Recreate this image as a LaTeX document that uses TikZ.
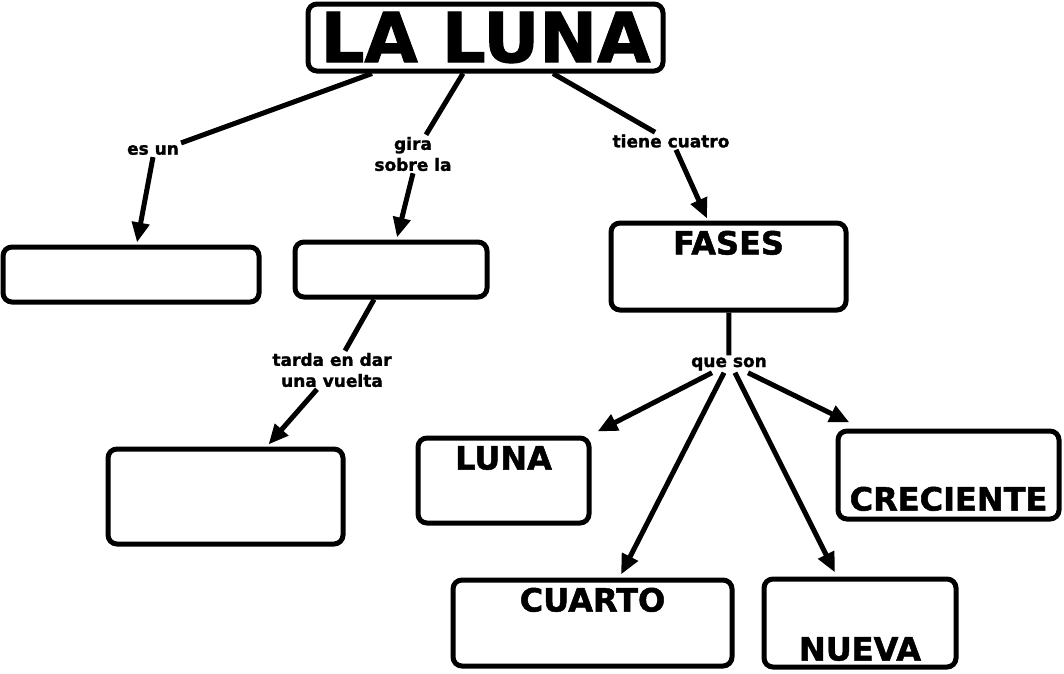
\documentclass[tikz,border=0pt]{standalone}
\usepackage{fontspec}
\setmainfont{DejaVu Sans}[BoldFeatures={FakeBold=1.5}]
\usetikzlibrary{arrows.meta}
\begin{document}
\begin{tikzpicture}[x=1pt,y=-1pt,
  box/.style={draw, line width=5pt, rounded corners=9pt, inner sep=0pt},
  lbl/.style={font=\bfseries\fontsize{17}{21}\selectfont, inner sep=2pt, align=center},
  link/.style={line width=5pt},
  arr/.style={line width=5pt, -{Triangle[length=20pt,width=17pt]}},
  big/.style={font=\bfseries\fontsize{32}{32}\selectfont, inner sep=0pt}
]
\fill[white] (0,0) rectangle (1064,673);
\useasboundingbox (0,0) rectangle (1064,673);

% boxes
\node[box, minimum width=355pt, minimum height=67pt, font=\bfseries\fontsize{69}{69}\selectfont] (title) at (485.5,37.5) {LA LUNA};
\node[box, minimum width=256pt, minimum height=55pt] (b1) at (131,274.5) {};
\node[box, minimum width=192pt, minimum height=55pt] (b2) at (391,269.5) {};
\node[box, minimum width=235pt, minimum height=87pt, label={[big, anchor=base, yshift=-34pt]north:FASES}] (fases) at (728.5,266.5) {};
\node[box, minimum width=235pt, minimum height=95pt] (b3) at (225.5,496.5) {};
\node[box, minimum width=171pt, minimum height=85pt, label={[big, anchor=base, yshift=-34pt]north:LUNA}] (luna) at (503.5,480.5) {};
\node[box, minimum width=221pt, minimum height=88pt, label={[big, anchor=base, yshift=11pt]south:CRECIENTE}] (creciente) at (948.5,475) {};
\node[box, minimum width=279pt, minimum height=86pt, label={[big, anchor=base, yshift=-34pt]north:CUARTO}] (cuarto) at (592.5,623) {};
\node[box, minimum width=192pt, minimum height=88pt, label={[big, anchor=base, yshift=9pt]south:NUEVA}] (nueva) at (860,623) {};

% linking phrases
\node[lbl] (esun) at (153,150) {es un};
\node[lbl] (gira) at (413,154) {gira\\sobre la};
\node[lbl] (tiene) at (671,141) {tiene cuatro};
\node[lbl] (tarda) at (332,370) {tarda en dar\\una vuelta};
\node[lbl] (queson) at (729,364) {que son};

% connectors
\draw[link] ([xshift=-113.5pt]title.south) -- (esun.north east);
\draw[arr] (esun.south) -- ([xshift=6pt,yshift=2pt]b1.north);

\draw[link] ([xshift=-22.5pt]title.south) -- ([xshift=13pt]gira.north);
\draw[arr] (gira.south) -- ([xshift=6pt,yshift=2pt]b2.north);

\draw[link] ([xshift=67.5pt]title.south) -- ([xshift=-16pt]tiene.north);
\draw[arr] ([xshift=5pt]tiene.south) -- ([xshift=-21.5pt,yshift=2pt]fases.north);

\draw[link] ([xshift=-17pt]b2.south) -- ([xshift=13pt]tarda.north);
\draw[arr] ([xshift=-15pt]tarda.south) -- ([xshift=43pt,yshift=2pt]b3.north);

\draw[link] (fases) -- (queson);
\draw[arr] ([xshift=-17pt]queson.south) -- ([xshift=6pt,yshift=4pt]luna.north east);
\draw[arr] ([xshift=-5pt]queson.south) -- ([xshift=28.5pt,yshift=3pt]cuarto.north);
\draw[arr] ([xshift=6pt]queson.south) -- ([xshift=-25pt,yshift=4pt]nueva.north);
\draw[arr] ([xshift=19pt]queson.south) -- ([xshift=14pt,yshift=6pt]creciente.north west);
\end{tikzpicture}
\end{document}
